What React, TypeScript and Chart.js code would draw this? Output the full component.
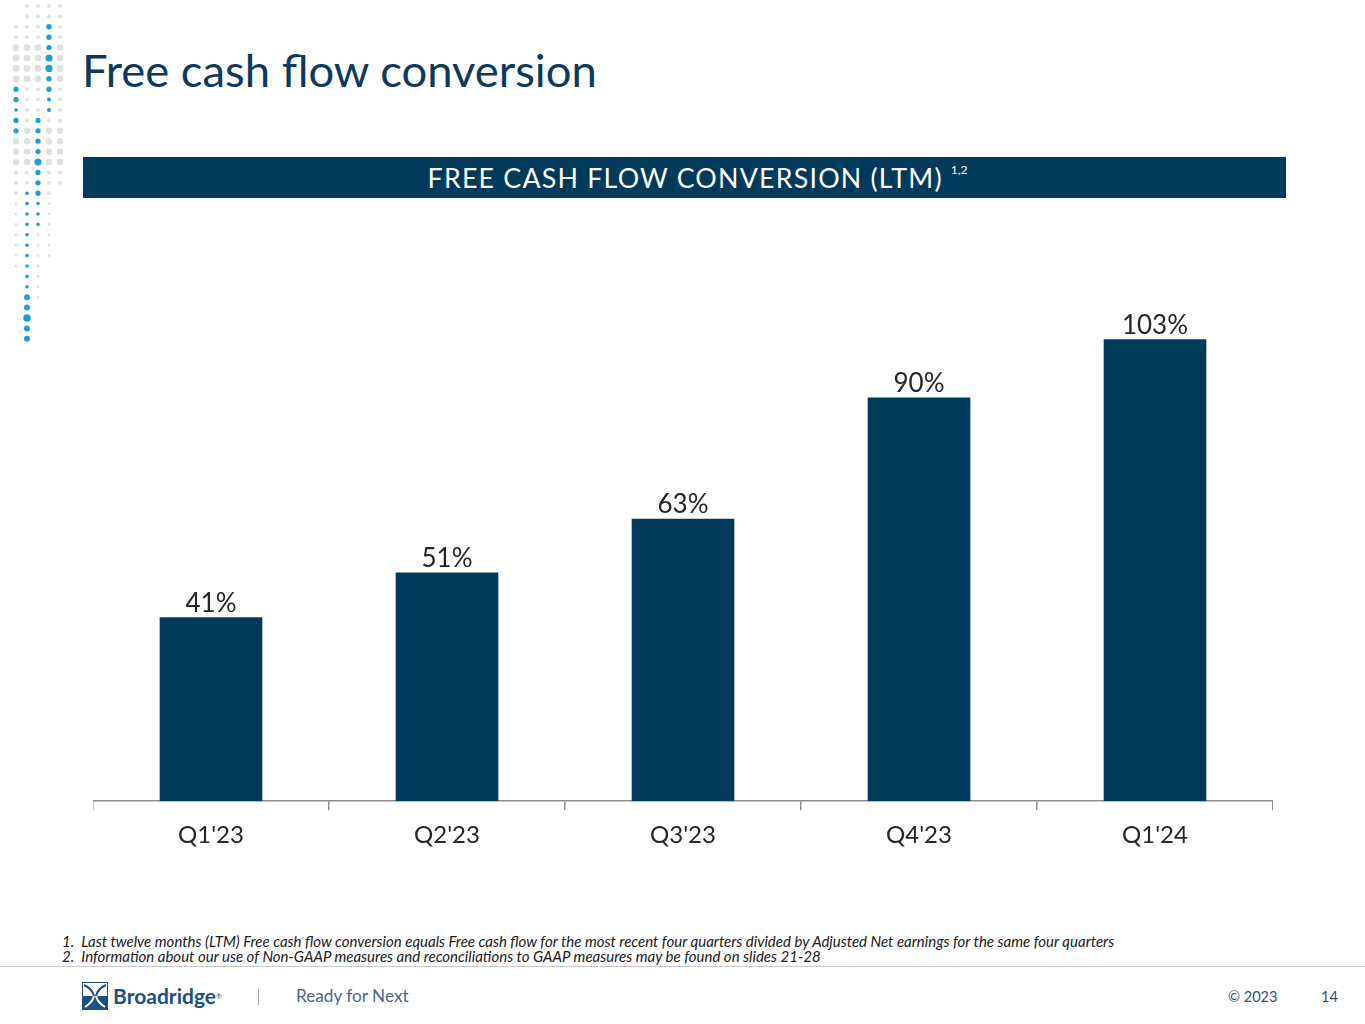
import React, { useEffect, useRef } from "react";
import { Chart, registerables } from "chart.js";

Chart.register(...registerables);

const categories = ["Q1'23", "Q2'23", "Q3'23", "Q4'23", "Q1'24"];
const conversionValues = [41, 51, 63, 90, 103];
const valueLabels = ["41%", "51%", "63%", "90%", "103%"];

const NAVY = "#023a5c";
const FONT = "Lato, 'Open Sans', sans-serif";

const valueLabelPlugin = {
  id: "valueLabels",
  afterDatasetsDraw(chart: any) {
    const { ctx } = chart;
    const meta = chart.getDatasetMeta(0);
    ctx.save();
    ctx.font = `26px ${FONT}`;
    ctx.fillStyle = "#262626";
    ctx.textAlign = "center";
    ctx.textBaseline = "bottom";
    meta.data.forEach((bar: any, i: number) => {
      ctx.fillText(valueLabels[i], bar.x, bar.y - 1);
    });
    ctx.restore();
  },
};

function Dots() {
  const cols = [16, 27, 38, 49, 60];
  const rowStep = 10.4;
  const circles: React.ReactNode[] = [];
  const blue = "#1a9fd6";
  const gray = "#e0e0e0";
  for (let r = 0; r < 33; r++) {
    const y = 6 + r * rowStep;
    cols.forEach((x, ci) => {
      let color = "";
      let rad = 0;
      if (ci === 3 && y >= 25 && y <= 112) {
        color = blue;
        rad = y > 52 && y < 72 ? 3.6 : y > 95 ? 2 : 2.7;
      } else if (ci === 0 && y >= 86 && y <= 132) {
        color = blue;
        rad = y > 105 && y < 112 ? 1.8 : 2.6;
      } else if (ci === 2 && y >= 116 && y <= 226) {
        color = blue;
        rad = y > 155 && y < 168 ? 3.6 : y > 200 ? 1.8 : 2.6;
      } else if (ci === 1 && y >= 190 && y <= 342) {
        color = blue;
        rad = y > 312 && y < 322 ? 3.8 : y > 290 ? 3 : 1.8;
      } else {
        const topLimit = [20, 5, 5, 5, 5][ci];
        const botLimit = [270, 200, 300, 260, 185][ci];
        if (y >= topLimit && y <= botLimit) {
          color = gray;
          rad = y > 45 && y < 80 ? 3.4 : y > 130 && y < 170 ? 3.2 : y > 200 ? 1.3 : 2;
        }
      }
      if (color) circles.push(<circle key={`${r}-${ci}`} cx={x} cy={y} r={rad} fill={color} />);
    });
  }
  return (
    <svg width={80} height={350} style={{ position: "absolute", left: 0, top: 0 }}>
      {circles}
    </svg>
  );
}

function Logo() {
  return (
    <svg width={26} height={28} viewBox="0 0 26 28" style={{ position: "absolute", left: 82, top: 982 }}>
      <rect x={0.5} y={0.5} width={25} height={27} fill="#ffffff" stroke="#1d4f86" strokeWidth={1} />
      <rect x={0} y={14} width={26} height={14} fill="#1d4f86" />
      <path d="M2 3 C 9 6, 11 10, 12 14 C 13 18, 9 22, 3 25" stroke="#1d4f86" strokeWidth={2} fill="none" />
      <path d="M24 3 C 17 6, 15 10, 14 14 C 13 18, 17 22, 23 25" stroke="#1d4f86" strokeWidth={2} fill="none" />
      <path d="M12 14 C 11 18, 8 22, 3 25" stroke="#ffffff" strokeWidth={2} fill="none" />
      <path d="M14 14 C 15 18, 18 22, 23 25" stroke="#ffffff" strokeWidth={2} fill="none" />
    </svg>
  );
}

export default function App() {
  const canvasRef = useRef<HTMLCanvasElement | null>(null);

  useEffect(() => {
    if (!canvasRef.current) return;
    const chart = new Chart(canvasRef.current, {
      type: "bar",
      data: {
        labels: categories,
        datasets: [
          {
            data: conversionValues,
            backgroundColor: NAVY,
            borderWidth: 0,
            categoryPercentage: 1,
            barPercentage: 0.435,
          },
        ],
      },
      options: {
        animation: false,
        responsive: false,
        maintainAspectRatio: false,
        layout: { padding: 0 },
        plugins: { legend: { display: false }, tooltip: { enabled: false } },
        scales: {
          x: {
            grid: {
              display: true,
              drawOnChartArea: false,
              drawTicks: true,
              tickLength: 9,
              color: "#8c8c8c",
              lineWidth: 1.5,
              offset: true,
            },
            border: { display: true, color: "#8c8c8c", width: 1.5 },
            ticks: {
              color: "#262626",
              font: { family: FONT, size: 24 },
              padding: 11,
            },
          },
          y: {
            display: false,
            min: 0,
            max: 120,
          },
        },
      },
      plugins: [valueLabelPlugin],
    });
    return () => chart.destroy();
  }, []);

  return (
    <div
      style={{
        position: "absolute",
        left: 0,
        top: 0,
        width: 1365,
        height: 1024,
        background: "#ffffff",
        overflow: "hidden",
        fontFamily: FONT,
      }}
    >
      <Dots />
      <div
        style={{
          position: "absolute",
          left: 82,
          top: 40,
          fontSize: 45.4,
          color: "#0b3a5e",
          lineHeight: "60px",
          whiteSpace: "nowrap",
        }}
      >
        Free cash flow conversion
      </div>
      <div
        style={{
          position: "absolute",
          left: 83,
          top: 157,
          width: 1203,
          height: 41,
          boxSizing: "border-box",
          paddingLeft: 26,
          background: NAVY,
          color: "#ffffff",
          display: "flex",
          alignItems: "center",
          justifyContent: "center",
          fontSize: 26.8,
          letterSpacing: 1.2,
          whiteSpace: "nowrap",
        }}
      >
        <span>FREE CASH FLOW CONVERSION (LTM)</span>
        <span style={{ fontSize: 12, marginLeft: 8, letterSpacing: 0, position: "relative", top: -8 }}>1,2</span>
      </div>
      <canvas
        ref={canvasRef}
        width={1180}
        height={598}
        style={{ position: "absolute", left: 93, top: 263, width: 1180, height: 598 }}
      />
      <div
        style={{
          position: "absolute",
          left: 62,
          top: 934,
          fontSize: 15,
          fontStyle: "italic",
          color: "#1a1a1a",
          lineHeight: "15px",
          whiteSpace: "nowrap",
        }}
      >
        <div>1.&nbsp; Last twelve months (LTM) Free cash flow conversion equals Free cash flow for the most recent four quarters divided by Adjusted Net earnings for the same four quarters</div>
        <div>2.&nbsp; Information about our use of Non-GAAP measures and reconciliations to GAAP measures may be found on slides 21-28</div>
      </div>
      <div style={{ position: "absolute", left: 0, top: 966, width: 1365, height: 1, background: "#c8c8c8" }} />
      <Logo />
      <div
        style={{
          position: "absolute",
          left: 113,
          top: 982,
          fontSize: 21,
          fontWeight: 700,
          color: "#1d4f86",
          whiteSpace: "nowrap",
          lineHeight: "28px",
        }}
      >
        Broadridge<span style={{ fontSize: 7, verticalAlign: "top", fontWeight: 400 }}>®</span>
      </div>
      <div style={{ position: "absolute", left: 258, top: 989, width: 1, height: 16, background: "#b0b0b0" }} />
      <div
        style={{
          position: "absolute",
          left: 296,
          top: 982,
          fontSize: 17.2,
          color: "#4a6890",
          whiteSpace: "nowrap",
          lineHeight: "28px",
        }}
      >
        Ready for Next
      </div>
      <div
        style={{
          position: "absolute",
          left: 1228,
          top: 987,
          fontSize: 14.5,
          color: "#2f4f78",
          whiteSpace: "nowrap",
          lineHeight: "20px",
        }}
      >
        © 2023
      </div>
      <div
        style={{
          position: "absolute",
          left: 1321,
          top: 987,
          fontSize: 14.5,
          color: "#2f4f78",
          whiteSpace: "nowrap",
          lineHeight: "20px",
        }}
      >
        14
      </div>
    </div>
  );
}
